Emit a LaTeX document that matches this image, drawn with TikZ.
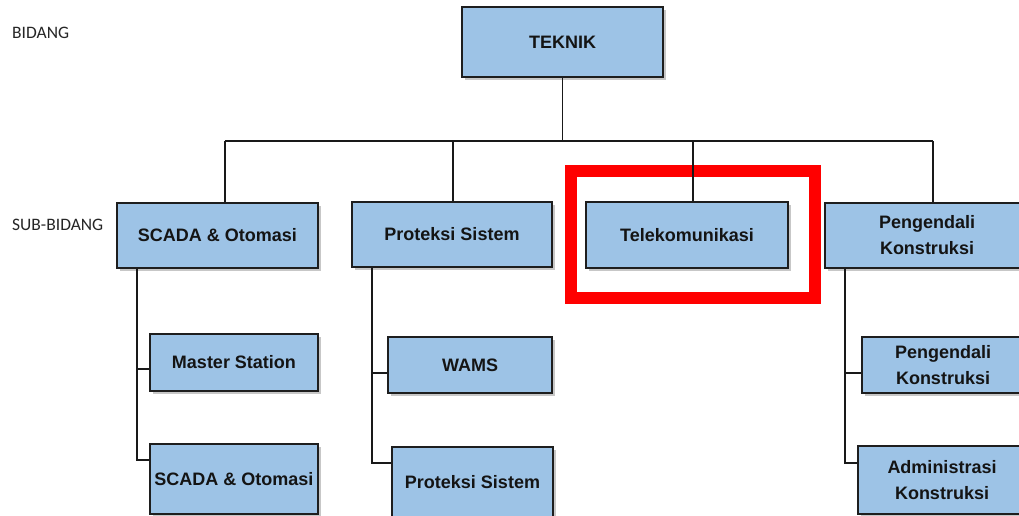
\documentclass[tikz,border=0pt]{standalone}
\usepackage{fontspec}
\setmainfont{Liberation Sans}
\newfontfamily\lblfont{Carlito}
\usetikzlibrary{shadows}
\definecolor{boxfill}{HTML}{9DC3E6}
\definecolor{boxline}{HTML}{1E1E1E}
\definecolor{hlred}{HTML}{FF0000}
\begin{document}
\begin{tikzpicture}[x=1pt,y=-1pt,
  unit/.style={draw=boxline, line width=1.4pt, fill=boxfill, inner sep=0pt,
    align=center, text=black!92,
    font=\bfseries\fontsize{18}{26}\selectfont,
    drop shadow={shadow xshift=3pt, shadow yshift=-3pt, fill=black, opacity=0.22}},
  link/.style={draw=black!90, line width=1.3pt},
  level/.style={anchor=west, inner sep=0pt, text=black!85,
    font=\lblfont\fontsize{17.5}{21}\selectfont}]
  \useasboundingbox (0,0) rectangle (1019,516);
  \clip (0,0) rectangle (1019,516);
  \fill[white] (0,0) rectangle (1019,516);

  % level captions
  \node[level] (bidang) at (12,32.5) {BIDANG};
  \node[level] (subbidang) at (12,224.5) {SUB-BIDANG};

  % top unit
  \node[unit, minimum width=201, minimum height=70] (teknik) at (562.5,42) {TEKNIK};

  % sub-units
  \node[unit, minimum width=201, minimum height=65] (scada) at (217.5,235.5) {SCADA \& Otomasi};
  \node[unit, minimum width=200, minimum height=65] (prot) at (452,234.5) {Proteksi Sistem};
  \node[unit, minimum width=202, minimum height=66] (tele) at (687,235) {Telekomunikasi};
  \node[unit, minimum width=204, minimum height=65] (peng) at (927,235.5) {Pengendali\\Konstruksi};

  % sections
  \node[unit, minimum width=168, minimum height=57] (master) at (234,362.5) {Master Station};
  \node[unit, minimum width=168, minimum height=70] (scada2) at (234,479) {SCADA \& Otomasi};
  \node[unit, minimum width=164, minimum height=56] (wams) at (470,365) {WAMS};
  \node[unit, minimum width=161, minimum height=70] (prot2) at (472.5,482) {Proteksi Sistem};
  \node[unit, minimum width=162, minimum height=56] (peng2) at (943,365) {Pengendali\\Konstruksi};
  \node[unit, minimum width=168, minimum height=68] (admin) at (942,480) {Administrasi\\Konstruksi};

  % highlight frame
  \node[draw=hlred, line width=12pt, minimum width=244, minimum height=127, inner sep=0pt]
    (focus) at (693,234.5) {};

  % bus from the top unit
  \coordinate (busL) at (225,141);
  \coordinate (busR) at (933,141);
  \draw[link] (busL) -- (busR);
  \draw[link] (teknik.south) -- (teknik.south |- busL);
  \draw[link] (busL) -- (busL |- scada.north);
  \draw[link] ([xshift=1pt]prot.north |- busL) -- ([xshift=1pt]prot.north);
  \draw[link] ([xshift=6pt]tele.north |- busL) -- ([xshift=6pt]tele.north);
  \draw[link] (busR) -- (busR |- peng.north);

  % branch points of the section trees
  \coordinate (j1) at (137,369);
  \coordinate (j2) at (137,460);
  \coordinate (j3) at (372,373);
  \coordinate (j4) at (372,463);
  \coordinate (j5) at (845,373);
  \coordinate (j6) at (845,463);

  \draw[link] (scada.south -| j2) -- (j2) -- (j2 -| scada2.west);
  \draw[link] (j1) -- (j1 -| master.west);
  \draw[link] (prot.south -| j4) -- (j4) -- (j4 -| prot2.west);
  \draw[link] (j3) -- (j3 -| wams.west);
  \draw[link] (peng.south -| j6) -- (j6) -- (j6 -| admin.west);
  \draw[link] (j5) -- (j5 -| peng2.west);
\end{tikzpicture}
\end{document}
